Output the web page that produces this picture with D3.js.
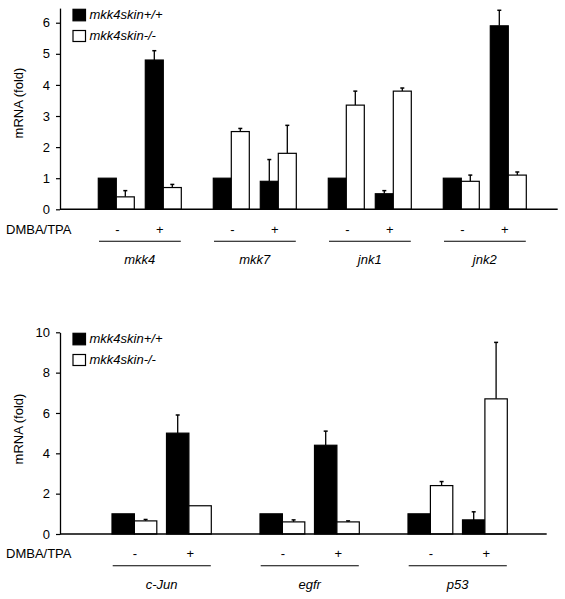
<!DOCTYPE html>
<html>
<head>
<meta charset="utf-8">
<script src="https://cdn.jsdelivr.net/npm/d3@7"></script>
<style>
  html, body { margin: 0; padding: 0; background: #fff; }
  svg { display: block; }
  text { font-family: "Liberation Sans", Arial, sans-serif; fill: #000; }
</style>
</head>
<body>
<svg id="chart" width="565" height="599"></svg>
<script>
// ---------- DATA ----------
const treatments = ["-", "+"];
const seriesNames = ["mkk4skin+/+", "mkk4skin-/-"];
const treatmentLabel = "DMBA/TPA";
const yLabel = "mRNA (fold)";

// Top panel
const genesTop = ["mkk4", "mkk7", "jnk1", "jnk2"];
const wtTop     = [[1, 4.8], [1, 0.9], [1, 0.5], [1, 5.9]];
const wtTopErr  = [[0, 0.3], [0, 0.7], [0, 0.1], [0, 0.5]];
const koTop     = [[0.4, 0.7], [2.5, 1.8], [3.35, 3.8], [0.9, 1.1]];
const koTopErr  = [[0.2, 0.1], [0.1, 0.9], [0.45, 0.1], [0.2, 0.1]];
const yTicksTop = [0, 1, 2, 3, 4, 5, 6];

// Bottom panel
const genesBot = ["c-Jun", "egfr", "p53"];
const wtBot     = [[1, 5], [1, 4.4], [1, 0.7]];
const wtBotErr  = [[0, 0.9], [0, 0.7], [0, 0.4]];
const koBot     = [[0.65, 1.4], [0.6, 0.6], [2.4, 6.7]];
const koBotErr  = [[0.07, 0], [0.1, 0.05], [0.2, 2.8]];
const yTicksBot = [0, 2, 4, 6, 8, 10];

// ---------- DRAW ----------
const svg = d3.select("#chart");

function panel(cfg) {
  const g = svg.append("g");
  const y = d3.scaleLinear().domain(cfg.yDomain).range(cfg.yRange);
  const x0 = d3.scaleBand().domain(cfg.genes).range(cfg.xRange).paddingInner(cfg.groupPad).paddingOuter(0);
  const x1 = d3.scaleBand().domain(treatments).range([0, x0.bandwidth()]).paddingInner(cfg.pairPad).paddingOuter(0);
  const x2 = d3.scaleBand().domain([0, 1]).range([0, x1.bandwidth()]);

  // y axis
  const ax = g.append("g").attr("transform", `translate(${cfg.axisX},0)`)
    .call(d3.axisLeft(y).tickValues(cfg.yTicks).tickFormat(d3.format("d"))
      .tickSize(4).tickSizeOuter(0).tickPadding(6));
  ax.selectAll("path.domain").attr("stroke", "#000").attr("stroke-width", 1.3);
  ax.selectAll(".tick line").attr("stroke", "#000").attr("stroke-width", 1.2);
  ax.selectAll(".tick text").attr("font-size", 13).attr("font-family", "Liberation Sans, Arial, sans-serif");

  // y label
  g.append("text").attr("transform", `translate(22.5,${cfg.yLabelCenter}) rotate(-90)`)
    .attr("text-anchor", "middle").attr("font-size", 13).text(yLabel);

  // bars
  const rows = [];
  cfg.genes.forEach((gene, gi) => {
    treatments.forEach((t, ti) => {
      rows.push({gene, t, s: 0, v: cfg.wt[gi][ti], e: cfg.wtErr[gi][ti]});
      rows.push({gene, t, s: 1, v: cfg.ko[gi][ti], e: cfg.koErr[gi][ti]});
    });
  });
  const bx = d => x0(d.gene) + x1(d.t) + x2(d.s);
  const bw = x2.bandwidth();

  const eb = rows.filter(d => d.e > 0);
  g.selectAll("line.err").data(eb).join("line")
    .attr("x1", d => bx(d) + bw / 2).attr("x2", d => bx(d) + bw / 2)
    .attr("y1", d => y(d.v)).attr("y2", d => y(d.v + d.e))
    .attr("stroke", "#000").attr("stroke-width", 1.3);
  g.selectAll("line.cap").data(eb).join("line")
    .attr("x1", d => bx(d) + bw / 2 - 2).attr("x2", d => bx(d) + bw / 2 + 2)
    .attr("y1", d => y(d.v + d.e)).attr("y2", d => y(d.v + d.e))
    .attr("stroke", "#000").attr("stroke-width", 1.5);

  g.selectAll("rect.bar").data(rows).join("rect")
    .attr("x", bx).attr("width", bw)
    .attr("y", d => y(d.v)).attr("height", d => y(0) - y(d.v))
    .attr("fill", d => d.s === 0 ? "#000" : "#fff")
    .attr("stroke", "#000").attr("stroke-width", 1.2);

  // x axis baseline
  g.append("line").attr("x1", cfg.axisX).attr("x2", cfg.xAxisEnd)
    .attr("y1", y(0)).attr("y2", y(0)).attr("stroke", "#000").attr("stroke-width", 1.4);

  // treatment row
  g.append("text").attr("x", 6).attr("y", cfg.treatY).attr("font-size", 13).text(treatmentLabel);
  cfg.genes.forEach(gene => {
    treatments.forEach((t, ti) => {
      g.append("text")
        .attr("x", x0(gene) + x1(t) + x1.bandwidth() / 2 + cfg.signOffset[ti])
        .attr("y", cfg.treatY).attr("text-anchor", "middle").attr("font-size", 13).text(t);
    });
    g.append("line")
      .attr("x1", x0(gene) + 0.7).attr("x2", x0(gene) + x0.bandwidth() - 0.5)
      .attr("y1", cfg.lineY).attr("y2", cfg.lineY).attr("stroke", "#000").attr("stroke-width", 1.1);
    g.append("text").attr("x", x0(gene) + x0.bandwidth() / 2).attr("y", cfg.geneY)
      .attr("text-anchor", "middle").attr("font-size", 13).attr("font-style", "italic").text(gene);
  });

  // legend
  seriesNames.forEach((name, i) => {
    g.append("rect").attr("x", 73).attr("y", cfg.legendY[i]).attr("width", 12.5).attr("height", cfg.legendH[i])
      .attr("fill", i === 0 ? "#000" : "#fff").attr("stroke", "#000").attr("stroke-width", 1.2);
    g.append("text").attr("x", 89.5).attr("y", cfg.legendTextY[i])
      .attr("font-size", 13).attr("font-style", "italic").text(name);
  });
}

panel({
  genes: genesTop, wt: wtTop, wtErr: wtTopErr, ko: koTop, koErr: koTopErr, yTicks: yTicksTop,
  yDomain: [0, 6.47], yRange: [209.3, 8.1],
  xRange: [98.3, 98.3 + 4 * 115 - 32], groupPad: 32 / 115, pairPad: 11 / 47,
  axisX: 60, xAxisEnd: 557.7, yLabelCenter: 103,
  treatY: 233.5, lineY: 241.3, geneY: 263.5, signOffset: [1, -3.5],
  legendY: [9.3, 30.5], legendH: [11.5, 11], legendTextY: [18.8, 39.5]
});

panel({
  genes: genesBot, wt: wtBot, wtErr: wtBotErr, ko: koBot, koErr: koBotErr, yTicks: yTicksBot,
  yDomain: [0, 10], yRange: [534, 332.3],
  xRange: [112, 112 + 3 * 148 - 48.7], groupPad: 48.7 / 148, pairPad: 9.7 / 54.5,
  axisX: 60, xAxisEnd: 546.7, yLabelCenter: 429,
  treatY: 557.5, lineY: 565.7, geneY: 588.5, signOffset: [0.5, 1.5],
  legendY: [333.3, 354.5], legendH: [11.5, 11], legendTextY: [343.3, 364]
});
</script>
</body>
</html>
